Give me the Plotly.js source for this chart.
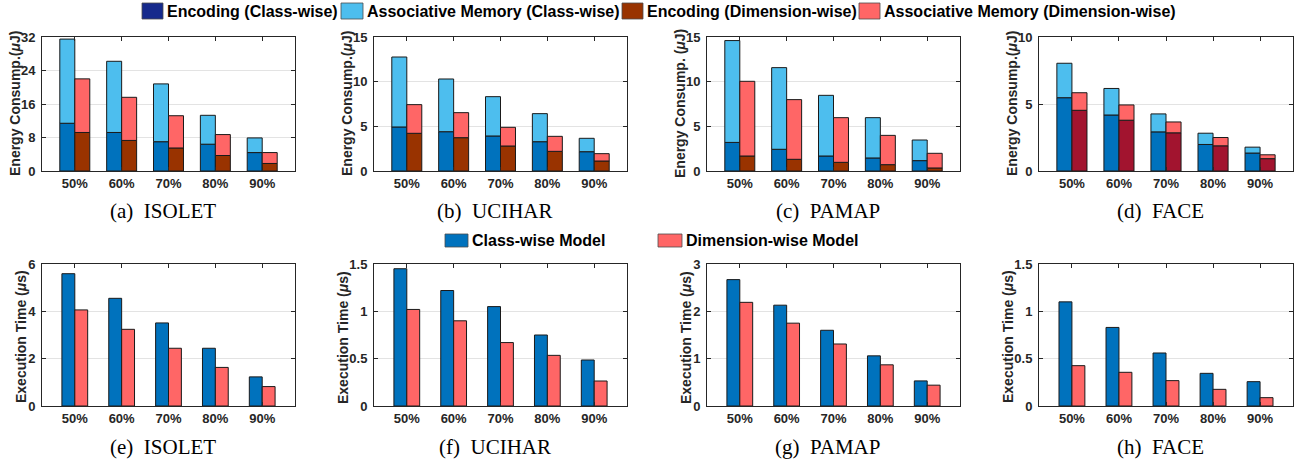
<!DOCTYPE html>
<html>
<head>
<meta charset="utf-8">
<script src="https://cdn.plot.ly/plotly-3.0.1.min.js"></script>
<style>html,body{margin:0;padding:0;background:#fff;}#chart{width:1297px;height:462px;}</style>
</head>
<body>
<div id="chart"></div>
<script>
// ---------------- DATA ----------------
const categories = ["50%", "60%", "70%", "80%", "90%"];

// Energy consumption (uJ): encoding part and associative-memory part of each stacked bar
const isoletClassEnc = [11.4, 9.2, 7.0, 6.4, 4.4];
const isoletClassAM  = [20.1, 17.0, 13.8, 6.9, 3.5];
const isoletDimEnc   = [9.2, 7.3, 5.5, 3.7, 1.8];
const isoletDimAM    = [12.8, 10.3, 7.7, 5.0, 2.6];

const uciharClassEnc = [4.93, 4.40, 3.92, 3.28, 2.16];
const uciharClassAM  = [7.83, 5.90, 4.40, 3.14, 1.50];
const uciharDimEnc   = [4.22, 3.73, 2.80, 2.20, 1.12];
const uciharDimAM    = [3.21, 2.80, 2.09, 1.68, 0.82];

const pamapClassEnc = [3.20, 2.43, 1.68, 1.46, 1.16];
const pamapClassAM  = [11.40, 9.14, 6.79, 4.51, 2.31];
const pamapDimEnc   = [1.68, 1.31, 0.97, 0.71, 0.34];
const pamapDimAM    = [8.36, 6.68, 5.00, 3.28, 1.64];

const faceClassEnc = [5.47, 4.18, 2.92, 1.98, 1.34];
const faceClassAM  = [2.57, 1.98, 1.34, 0.84, 0.44];
const faceDimEnc   = [4.53, 3.79, 2.85, 1.88, 0.92];
const faceDimAM    = [1.31, 1.14, 0.81, 0.62, 0.29];

// Execution time (us)
const isoletClassTime = [5.59, 4.55, 3.51, 2.44, 1.23];
const isoletDimTime   = [4.06, 3.24, 2.44, 1.63, 0.82];
const uciharClassTime = [1.45, 1.22, 1.05, 0.75, 0.486];
const uciharDimTime   = [1.02, 0.90, 0.67, 0.535, 0.264];
const pamapClassTime  = [2.67, 2.13, 1.60, 1.06, 0.53];
const pamapDimTime    = [2.19, 1.75, 1.31, 0.87, 0.44];
const faceClassTime   = [1.10, 0.83, 0.56, 0.345, 0.257];
const faceDimTime     = [0.426, 0.356, 0.268, 0.176, 0.088];

const energyRanges = [32, 15, 15, 10];
const energyDticks = [8, 5, 5, 5];
const timeRanges = [6, 1.5, 3, 1.5];
const timeDticks = [2, 0.5, 1, 0.5];

const topCaptions = ["(a)\u2002ISOLET", "(b)\u2002UCIHAR", "(c)\u2002PAMAP", "(d)\u2002FACE"];
const bottomCaptions = ["(e)\u2002ISOLET", "(f)\u2002UCIHAR", "(g)\u2002PAMAP", "(h)\u2002FACE"];
const topLegendLabels = ["Encoding (Class-wise)", "Associative Memory (Class-wise)", "Encoding (Dimension-wise)", "Associative Memory (Dimension-wise)"];
const bottomLegendLabels = ["Class-wise Model", "Dimension-wise Model"];

// ---------------- STYLE / LAYOUT ----------------
const W = 1297, H = 462;
const px = x => x / W;
const py = y => 1 - y / H;
const FONT = "Liberation Sans, Arial, Helvetica, sans-serif";
const C_ENC = "#0072BD", C_AM = "#4DBEEE", C_DENC = "#993300", C_DAM = "#FF6666", C_FACE_DENC = "#A2142F";
const LEG_ENC = "#162A8C";

const colsX = [[42, 295], [374, 627], [707, 960], [1039, 1293]];
const topY = [37, 171], botY = [264, 406];
const wTop = 0.32, wBot = 0.275;

const energySets = [
  [isoletClassEnc, isoletClassAM, isoletDimEnc, isoletDimAM],
  [uciharClassEnc, uciharClassAM, uciharDimEnc, uciharDimAM],
  [pamapClassEnc, pamapClassAM, pamapDimEnc, pamapDimAM],
  [faceClassEnc, faceClassAM, faceDimEnc, faceDimAM]
];
const timeSets = [
  [isoletClassTime, isoletDimTime],
  [uciharClassTime, uciharDimTime],
  [pamapClassTime, pamapDimTime],
  [faceClassTime, faceDimTime]
];

const traces = [];
const layout = {
  width: W, height: H,
  margin: {l: 0, r: 0, t: 0, b: 0},
  paper_bgcolor: "#fff", plot_bgcolor: "#fff",
  showlegend: false,
  barmode: "overlay",
  font: {family: FONT, color: "#262626"},
  annotations: [], shapes: []
};

const lineStyle = {color: "#1a1a1a", width: 1};

function axisX(domain, anchor) {
  return {
    domain: domain, anchor: anchor, type: "category",
    range: [-0.7, 4.7], fixedrange: true, automargin: false,
    showline: true, linecolor: "#262626", linewidth: 1, mirror: "ticks",
    ticks: "inside", ticklen: 4, tickcolor: "#262626", tickwidth: 1,
    showgrid: false, zeroline: false,
    tickfont: {family: FONT, size: 13, color: "#262626", weight: 700}
  };
}
function axisY(domain, anchor, max, dtick) {
  return {
    domain: domain, anchor: anchor,
    range: [0, max], dtick: dtick, tick0: 0, fixedrange: true, automargin: false,
    showline: true, linecolor: "#262626", linewidth: 1, mirror: "ticks",
    ticks: "inside", ticklen: 4, tickcolor: "#262626", tickwidth: 1,
    showgrid: true, gridcolor: "#e3e3e3", gridwidth: 1, zeroline: false,
    ticklabelstandoff: 3,
    tickfont: {family: FONT, size: 13, color: "#262626", weight: 700}
  };
}

for (let i = 0; i < 4; i++) {
  // top row: energy
  const n = i + 1;
  const xa = n === 1 ? "x" : "x" + n, ya = n === 1 ? "y" : "y" + n;
  const [ce, cam, de, dam] = energySets[i];
  const dEncColor = i === 3 ? C_FACE_DENC : C_DENC;
  traces.push({type: "bar", x: categories, y: ce, base: 0, offset: -wTop, width: wTop, xaxis: xa, yaxis: ya,
    marker: {color: C_ENC, line: lineStyle}, name: topLegendLabels[0]});
  traces.push({type: "bar", x: categories, y: cam, base: ce, offset: -wTop, width: wTop, xaxis: xa, yaxis: ya,
    marker: {color: C_AM, line: lineStyle}, name: topLegendLabels[1]});
  traces.push({type: "bar", x: categories, y: de, base: 0, offset: 0, width: wTop, xaxis: xa, yaxis: ya,
    marker: {color: dEncColor, line: lineStyle}, name: topLegendLabels[2]});
  traces.push({type: "bar", x: categories, y: dam, base: de, offset: 0, width: wTop, xaxis: xa, yaxis: ya,
    marker: {color: C_DAM, line: lineStyle}, name: topLegendLabels[3]});
  layout["xaxis" + (n === 1 ? "" : n)] = axisX([px(colsX[i][0]), px(colsX[i][1])], ya);
  layout["yaxis" + (n === 1 ? "" : n)] = axisY([py(topY[1]), py(topY[0])], xa, energyRanges[i], energyDticks[i]);

  // bottom row: time
  const m = i + 5;
  const xb = "x" + m, yb = "y" + m;
  const [ct, dt] = timeSets[i];
  traces.push({type: "bar", x: categories, y: ct, offset: -wBot, width: wBot, xaxis: xb, yaxis: yb,
    marker: {color: C_ENC, line: lineStyle}, name: bottomLegendLabels[0]});
  traces.push({type: "bar", x: categories, y: dt, offset: 0, width: wBot, xaxis: xb, yaxis: yb,
    marker: {color: C_DAM, line: lineStyle}, name: bottomLegendLabels[1]});
  layout["xaxis" + m] = axisX([px(colsX[i][0]), px(colsX[i][1])], yb);
  layout["yaxis" + m] = axisY([py(botY[1]), py(botY[0])], xb, timeRanges[i], timeDticks[i]);

  // y-axis titles
  const topOff = 27;
  const botOff = (i === 1 || i === 3) ? 31 : 21;
  layout.annotations.push({
    xref: "paper", yref: "paper", x: px(colsX[i][0] - topOff), y: py((topY[0] + topY[1]) / 2),
    text: i === 2 ? "Energy Consump. (<i>μ</i>J)" : "Energy Consump.(<i>μ</i>J)",
    textangle: -90, showarrow: false, xanchor: "center", yanchor: "middle",
    font: {family: FONT, size: 14, color: "#262626", weight: 700}
  });
  layout.annotations.push({
    xref: "paper", yref: "paper", x: px(colsX[i][0] - botOff), y: py((botY[0] + botY[1]) / 2 + 2),
    text: "Execution Time (<i>μ</i>s)",
    textangle: -90, showarrow: false, xanchor: "center", yanchor: "middle",
    font: {family: FONT, size: 14, color: "#262626", weight: 700}
  });
  // captions
  const cx = (colsX[i][0] + colsX[i][1]) / 2 - 6;
  layout.annotations.push({
    xref: "paper", yref: "paper", x: px(cx), y: py(211), text: topCaptions[i],
    showarrow: false, xanchor: "center", yanchor: "middle",
    font: {family: "Liberation Serif, Times New Roman, serif", size: 21, color: "#000"}
  });
  layout.annotations.push({
    xref: "paper", yref: "paper", x: px(cx), y: py(447), text: bottomCaptions[i],
    showarrow: false, xanchor: "center", yanchor: "middle",
    font: {family: "Liberation Serif, Times New Roman, serif", size: 21, color: "#000"}
  });
}

// ---------------- LEGENDS (drawn as patches + labels) ----------------
function legendItem(x0, x1, y0, y1, color, label) {
  layout.shapes.push({type: "rect", xref: "paper", yref: "paper",
    x0: px(x0), x1: px(x1), y0: py(y1), y1: py(y0),
    fillcolor: color, line: {color: "#4d4d4d", width: 0.8}});
  layout.annotations.push({xref: "paper", yref: "paper", x: px(x1 + 2), y: py((y0 + y1) / 2),
    text: label, showarrow: false, xanchor: "left", yanchor: "middle",
    font: {family: FONT, size: 16, color: "#000", weight: 700}});
}
legendItem(142, 163, 3, 19, LEG_ENC, topLegendLabels[0]);
legendItem(341, 363, 3, 19, C_AM, topLegendLabels[1]);
legendItem(622, 643, 3, 19, C_DENC, topLegendLabels[2]);
legendItem(859, 880, 3, 19, C_DAM, topLegendLabels[3]);
legendItem(445, 468, 234, 247, C_ENC, bottomLegendLabels[0]);
legendItem(658, 682, 234, 247, C_DAM, bottomLegendLabels[1]);

Plotly.newPlot("chart", traces, layout, {staticPlot: true, displayModeBar: false});
</script>
</body>
</html>
